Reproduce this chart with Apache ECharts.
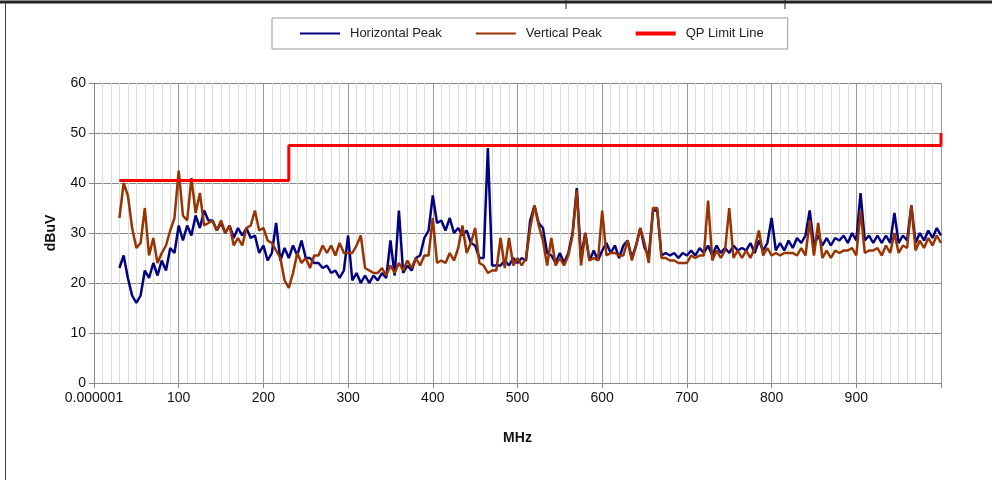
<!DOCTYPE html>
<html>
<head>
<meta charset="utf-8">
<script src="https://cdn.jsdelivr.net/npm/echarts@6/dist/echarts.min.js"></script>
<style>
  html, body { margin: 0; padding: 0; background: #fff; }
  #main { width: 992px; height: 480px; }
</style>
</head>
<body>
<div id="main"></div>
<script>
// sweep: 30 MHz .. 1000 MHz, one reading every 5 MHz
const START_MHZ = 30;
const STEP_MHZ = 5;

// horizontal antenna peak readings (dBuV)
const horizontalPeak = [
  23, 25.5, 21, 17.5, 16, 17.5, 22.5, 21, 24, 21.5,
  24.5, 22.5, 27, 26, 31.5, 28.5, 31.5, 29.5, 33.5, 31,
  34.5, 32.5, 32.5, 30.5, 32, 30, 31.5, 29, 31, 29.5,
  31, 29, 29.5, 26, 27.5, 24.5, 26, 32, 24.5, 27,
  25, 27.5, 25.5, 28.5, 25, 25, 24, 24, 23, 23.5,
  22, 22.5, 21, 22.5, 29.5, 20.5, 22, 20, 21.5, 20,
  21.5, 20.5, 22, 21, 28.5, 21.5, 34.5, 22, 23.5, 22.5,
  25, 25.5, 29, 30.5, 37.5, 32, 32.5, 30.5, 33, 30,
  31, 29.5, 30.5, 28, 27.5, 25, 25, 47, 23.5, 23.5,
  23.5, 24.5, 23.5, 25, 24, 25, 24.5, 32.5, 35.5, 32,
  31, 26, 25.5, 24, 26, 24, 26, 30, 39, 25,
  30, 24.5, 26.5, 24.5, 26.5, 28, 26, 27.5, 25, 27.5,
  28.5, 25, 27.5, 31, 27, 25.5, 34.5, 34.5, 25.5, 26,
  25.5, 26, 25, 26, 25.5, 26.5, 25.5, 27, 26, 27.5,
  25.5, 27.5, 26, 27, 26, 27.5, 26.5, 27, 26.5, 28,
  26, 28.5, 26.5, 28, 33, 26.5, 28, 26.5, 28.5, 27,
  29, 28, 29.5, 34.5, 27.5, 29.5, 27.5, 29, 27.5, 29,
  28.5, 29.5, 28, 30, 28.5, 38, 28.5, 29.5, 28, 29.5,
  28, 29.5, 28, 34, 28, 29.5, 28.5, 35.5, 28, 30,
  28.5, 30.5, 29, 31, 29.5
];

// vertical antenna peak readings (dBuV)
const verticalPeak = [
  33, 40, 37.5, 31, 27, 28, 35, 25.5, 29, 24,
  26, 27.5, 30.5, 33, 42.5, 33.5, 32.5, 41, 34, 38,
  31.5, 32, 32.5, 30.5, 32.5, 30, 31.5, 27.5, 29, 27.5,
  31, 31.5, 34.5, 30.5, 31, 28.5, 28, 26.5, 25, 20.5,
  19, 22, 26, 24, 25, 23, 25.5, 25.5, 27.5, 26,
  27.5, 25.5, 28, 26, 26, 26, 27.5, 29.5, 23, 22.5,
  22, 22, 23, 21.5, 23.5, 22, 24, 22.5, 24.5, 23,
  25, 23.5, 25.5, 25.5, 33, 24, 24.5, 24, 26, 24.5,
  27, 31.5, 26, 28, 31, 24, 23.5, 22, 22.5, 22.5,
  29, 23, 29, 23.5, 25, 23.5, 25, 31, 35.5, 31.5,
  28.5, 23.5, 29, 23.5, 25, 23.5, 25.5, 29.5, 38.5, 23.5,
  30, 24.5, 25, 24.5, 34.5, 25.5, 26, 26, 25.5, 25.5,
  28.5, 24.5, 27.5, 31, 28, 24, 35, 35, 25, 25,
  24.5, 24.5, 24, 24, 24, 25.5, 25, 25.5, 25.5, 36.5,
  24.5, 26.5, 25, 26.5, 35, 25, 26.5, 25, 26.5, 25,
  27, 30.5, 25.5, 27, 25.5, 26, 25.5, 26, 26, 26,
  25.5, 27, 25.5, 32.5, 25.5, 32, 25, 26.5, 25, 26.5,
  26, 26.5, 26.5, 27, 25.5, 34.5, 26, 26.5, 26.5, 27,
  25.5, 27.5, 26, 30, 26, 27.5, 27, 35.5, 26.5, 28.5,
  27, 29, 27.5, 29.5, 28
];

// QP limit line corners [MHz, dBuV]
const limitFreq = [30, 230, 230, 1000, 1000];
const limitLevel = [40.5, 40.5, 47.5, 47.5, 50];

const freqs = horizontalPeak.map((_, i) => START_MHZ + i * STEP_MHZ);
const pairs = (xs, ys) => xs.map((x, i) => [x, ys[i]]);

const FONT = "Liberation Sans";
const THIN_ICON = "path://M0,0H40V2H0Z";
const THICK_ICON = "path://M0,0H40V4H0Z";
const chart = echarts.init(document.getElementById("main"));

chart.setOption({
  animation: false,
  backgroundColor: "#fff",
  textStyle: { fontFamily: FONT },
  legend: {
    left: 272,
    top: 18,
    padding: [9, 24, 9, 28],
    itemGap: 34,
    itemWidth: 40,
    itemHeight: 12,
    borderColor: "#999",
    borderWidth: 1,
    backgroundColor: "#fff",
    textStyle: { fontSize: 13, color: "#222", fontFamily: FONT, padding: [0, 0, 0, 5] },
    data: [
      { name: "Horizontal Peak", icon: THIN_ICON },
      { name: "Vertical Peak", icon: THIN_ICON },
      { name: "QP Limit Line", icon: THICK_ICON },
    ],
  },
  grid: { left: 94, right: 51, top: 83, bottom: 97 },
  xAxis: {
    type: "value",
    min: 0,
    max: 1000,
    interval: 100,
    name: "MHz",
    nameLocation: "middle",
    nameGap: 48,
    nameTextStyle: { fontSize: 14, fontWeight: "bold", color: "#111" },
    axisLine: { lineStyle: { color: "#888" } },
    axisTick: { show: true, length: 5, lineStyle: { color: "#888" } },
    axisLabel: {
      fontSize: 14,
      color: "#111",
      margin: 8,
      formatter: (v) => (v === 0 ? "0.000001" : v === 1000 ? "" : String(v)),
    },
    splitLine: { show: true, lineStyle: { color: "#999" } },
    minorTick: { show: false, splitNumber: 10 },
    minorSplitLine: { show: true, lineStyle: { color: "#dcdcdc" } },
  },
  yAxis: {
    type: "value",
    min: 0,
    max: 60,
    interval: 10,
    name: "dBuV",
    nameLocation: "middle",
    nameGap: 36,
    nameTextStyle: { fontSize: 14, fontWeight: "bold", color: "#111" },
    axisLine: { show: true, lineStyle: { color: "#888" } },
    axisTick: { show: true, length: 5, lineStyle: { color: "#888" } },
    axisLabel: { fontSize: 14, color: "#111", margin: 8 },
    splitLine: { show: true, lineStyle: { color: "#888" } },
  },
  series: [
    {
      name: "Horizontal Peak",
      type: "line",
      symbol: "none",
      data: pairs(freqs, horizontalPeak),
      lineStyle: { color: "#000080", width: 2.5 },
      itemStyle: { color: "#000080" },
      z: 2,
    },
    {
      name: "Vertical Peak",
      type: "line",
      symbol: "none",
      data: pairs(freqs, verticalPeak),
      lineStyle: { color: "#993300", width: 2.5 },
      itemStyle: { color: "#993300" },
      z: 3,
    },
    {
      name: "QP Limit Line",
      type: "line",
      symbol: "none",
      data: pairs(limitFreq, limitLevel),
      lineStyle: { color: "#ff0000", width: 3 },
      itemStyle: { color: "#ff0000" },
      z: 4,
    },
  ],
  graphic: [
    // fragments of the surrounding table frame
    { type: "line", shape: { x1: 0, y1: 2, x2: 992, y2: 2 }, style: { stroke: "#222", lineWidth: 3 } },
    { type: "line", shape: { x1: 566, y1: 0, x2: 566, y2: 9 }, style: { stroke: "#222", lineWidth: 1 } },
    { type: "line", shape: { x1: 785, y1: 0, x2: 785, y2: 9 }, style: { stroke: "#222", lineWidth: 1 } },
    { type: "line", shape: { x1: 5.5, y1: 2, x2: 5.5, y2: 480 }, style: { stroke: "#444", lineWidth: 1 } },
  ],
});
</script>
</body>
</html>
